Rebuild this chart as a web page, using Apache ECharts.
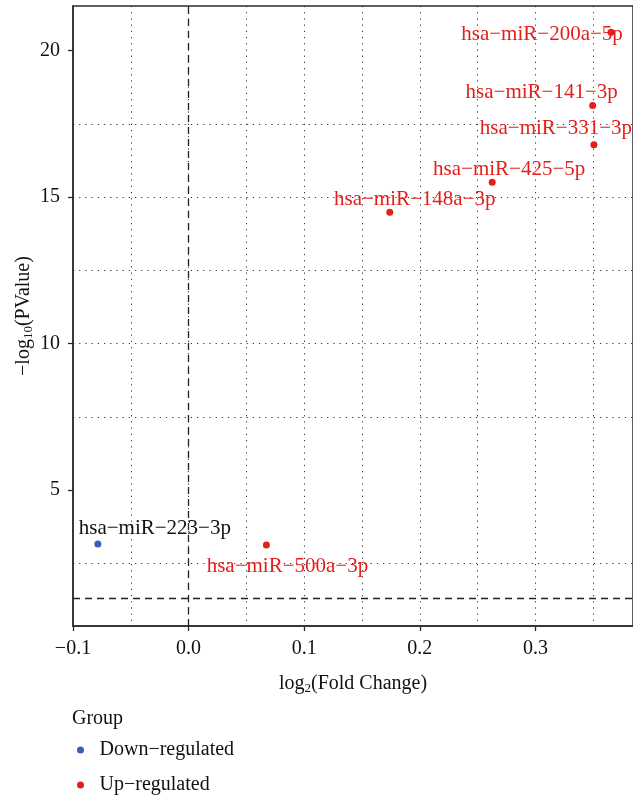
<!DOCTYPE html>
<html>
<head>
<meta charset="utf-8">
<script src="https://cdn.jsdelivr.net/npm/echarts@6/dist/echarts.min.js"></script>
<style>
	html, body { margin: 0; padding: 0; background: #fff; }
	#chart { width: 633px; height: 801px; }
</style>
</head>
<body>
<div id="chart"></div>
<script>
// values
let genes = ['hsa−miR−223−3p', 'hsa−miR−500a−3p', 'hsa−miR−148a−3p', 'hsa−miR−425−5p', 'hsa−miR−331−3p', 'hsa−miR−141−3p', 'hsa−miR−200a−5p'];
let log2FC = [-0.0785, 0.0673, 0.174, 0.2626, 0.3506, 0.3495, 0.3654];
let negLog10P = [3.16, 3.12, 14.48, 15.50, 16.78, 18.12, 20.62];
let groups = ['Down−regulated', 'Up−regulated', 'Up−regulated', 'Up−regulated', 'Up−regulated', 'Up−regulated', 'Up−regulated'];
let groupNames = ['Down−regulated', 'Up−regulated'];
let yTickValues = [5, 10, 15, 20];
let pCutoff = 1.301;
let fcCutoff = 0;

// label nudges (px), like ggrepel placed them
let labelShift = [[57, -15], [21, 21], [25, -13], [17, -13], [-38, -16], [-51, -13], [-69, 2]];

let colors = {'Down−regulated': '#3b5cc0', 'Up−regulated': '#e31f1c'};
let labelColors = {'Down−regulated': '#111', 'Up−regulated': '#e31f1c'};
let font = '"Liberation Serif", "DejaVu Serif", serif';
let ink = '#2b2b2b';

let chart = echarts.init(document.getElementById('chart'), null, {renderer: 'canvas'});

let fmtMinus = (v) => String(v).replace('-', '−');

let series = groupNames.map((g) => ({
	name: g,
	type: 'scatter',
	symbolSize: 7,
	itemStyle: {color: colors[g], opacity: 1},
	data: genes
		.map((name, i) => ({i, name}))
		.filter(({i}) => groups[i] === g)
		.map(({i, name}) => ({
			name,
			value: [log2FC[i], negLog10P[i]],
			label: {offset: labelShift[i]},
		})),
	label: {
		show: true,
		position: 'inside',
		formatter: '{b}',
		fontFamily: font,
		fontSize: 21,
		color: labelColors[g],
		opacity: 1,
	},
	emphasis: {disabled: true},
}));

series[0].markLine = {
	silent: true,
	symbol: 'none',
	label: {show: false},
	lineStyle: {color: '#222', type: [7, 5], width: 1.3, opacity: 1},
	data: [{xAxis: fcCutoff}, {yAxis: pCutoff}],
};

let nameRich = {
	a: {fontFamily: font, fontSize: 20, color: '#111'},
	s: {fontFamily: font, fontSize: 13, color: '#111', padding: [9, 0, 0, 0]},
};

chart.setOption({
	animation: false,
	backgroundColor: '#fff',
	grid: {
		left: 73,
		right: 0,
		top: 6,
		bottom: 175,
		show: true,
		borderColor: ink,
		borderWidth: 1.5,
	},
	title: {
		text: 'Group',
		left: 67,
		top: 704,
		textStyle: {fontFamily: font, fontSize: 20, fontWeight: 'normal', color: '#111'},
	},
	legend: {
		data: groupNames,
		orient: 'vertical',
		left: 72,
		top: 735,
		icon: 'circle',
		itemWidth: 18,
		itemHeight: 7,
		itemGap: 15,
		textStyle: {fontFamily: font, fontSize: 20, color: '#111', padding: [0, 0, 0, 5]},
		selectedMode: false,
	},
	xAxis: {
		type: 'value',
		min: -0.1,
		max: 0.3844,
		interval: 0.1,
		name: '{a|log}{s|2}{a|(Fold Change)}',
		nameLocation: 'middle',
		nameGap: 47,
		nameMoveOverlap: false,
		nameTextStyle: {rich: nameRich},
		axisLine: {show: true, onZero: false, lineStyle: {color: ink, width: 1.5}},
		axisTick: {show: true, length: 5, lineStyle: {color: ink, width: 1.3}},
		axisLabel: {
			fontFamily: font,
			fontSize: 20,
			color: '#111',
			margin: 13,
			showMaxLabel: false,
			formatter: (v) => fmtMinus(v.toFixed(1)),
		},
		splitLine: {show: true, showMinLine: false, showMaxLine: false, lineStyle: {color: '#333', type: [1.2, 5], width: 1}},
		minorTick: {show: false, splitNumber: 2},
		minorSplitLine: {show: true, lineStyle: {color: '#333', type: [1.2, 5], width: 1}},
	},
	yAxis: {
		type: 'value',
		min: 0.358,
		max: 21.52,
		splitNumber: 4,
		name: '{a|−log}{s|10}{a|(PValue)}',
		nameLocation: 'middle',
		nameGap: 38,
		nameMoveOverlap: false,
		nameTextStyle: {rich: nameRich},
		axisLine: {show: true, onZero: false, lineStyle: {color: ink, width: 1.5}},
		axisTick: {show: true, length: 5, customValues: yTickValues, lineStyle: {color: ink, width: 1.3}},
		axisLabel: {
			fontFamily: font,
			fontSize: 20,
			color: '#111',
			margin: 13,
			customValues: yTickValues,
		},
		splitLine: {show: true, showMinLine: false, showMaxLine: false, lineStyle: {color: '#333', type: [1.2, 5], width: 1}},
		minorTick: {show: false, splitNumber: 2},
		minorSplitLine: {show: true, lineStyle: {color: '#333', type: [1.2, 5], width: 1}},
	},
	series,
});
</script>
</body>
</html>
